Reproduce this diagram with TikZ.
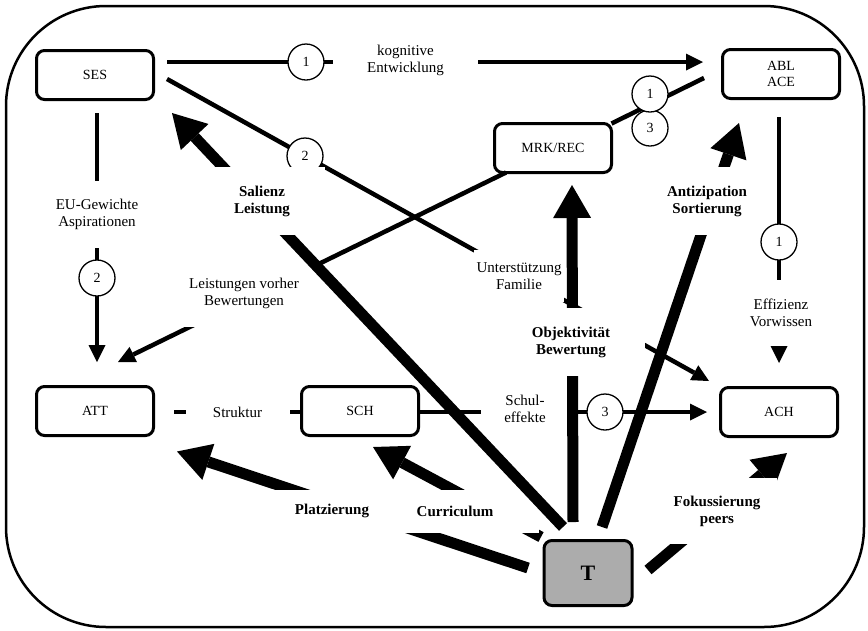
\documentclass[tikz,border=0pt]{standalone}
\usepackage{fontspec}
\setmainfont{Liberation Serif}
\usepackage{tikz}
\usetikzlibrary{arrows.meta}

\begin{document}
\begin{tikzpicture}[x=1pt,y=-1pt,
box/.style={draw,line width=3pt,rounded corners=8pt,fill=white,
minimum width=117pt,minimum height=49pt,outer sep=0pt,align=center,
font=\fontsize{14}{16}\selectfont},
num/.style={draw,circle,line width=1.3pt,fill=white,minimum size=36pt,
inner sep=0pt,font=\fontsize{14}{16}\selectfont},
lbl/.style={fill=white,align=center,inner sep=0pt,font=\fontsize{15}{17}\selectfont},
blbl/.style={lbl,font=\fontsize{15}{17}\selectfont\bfseries},
thinline/.style={line width=4.5pt},
thinarrow/.style={thinline,-{Triangle[length=17pt,width=17pt,line width=0pt]}},
fatarrow/.style={line width=11pt,-{Triangle[length=33pt,width=38pt,line width=0pt]}}]
\useasboundingbox (0,0) rectangle (868,630);
\draw[line width=2.5pt,rounded corners=100pt] (6,6) rectangle (864,627);

%----------boxes
\node[box] (ses) at (95,75) {SES};
\node[box] (abl) at (781,74) {ABL\\ACE};
\node[box] (mrk) at (553,148) {MRK/REC};
\node[box] (att) at (95,411) {ATT};
\node[box] (sch) at (360,411) {SCH};
\node[box] (ach) at (779,412) {ACH};
\node[box,fill=gray!65,minimum width=88pt,minimum height=65pt,
font=\fontsize{22}{24}\selectfont\bfseries] (t) at (588,573) {T};

%----------thin lines
%SES -> ABL
\draw[thinarrow] ([xshift=13.5pt,yshift=13pt]ses.east) -- ([xshift=-19.5pt,yshift=12pt]abl.west);
%SES -> ACH
\draw[thinarrow] ([xshift=13.5pt,yshift=-4pt]ses.east) -- ([xshift=-11.5pt,yshift=6.5pt]ach.north west);
%MRK -> ATT
\draw[thinarrow] ([xshift=11.5pt]mrk.south west) -- ([xshift=23pt,yshift=24.5pt]att.north);
%MRK -- ABL
\draw[thinline] (mrk.north east) -- ([xshift=-18.5pt,yshift=-4pt]abl.west);
%SES -> ATT
\draw[thinarrow] ([xshift=2pt,yshift=-13.5pt]ses.south) -- ([xshift=2pt,yshift=24.5pt]att.north);
%ABL -> ACH
\draw[thinarrow] ([xshift=-2pt,yshift=-18.5pt]abl.south) -- ([yshift=24.5pt]ach.north);
%ATT -- SCH
\draw[thinline] ([xshift=20.5pt,yshift=-1pt]att.east) -- ([yshift=-1pt]sch.west);
%SCH -> ACH
\draw[thinarrow] ([yshift=-1pt]sch.east) -- ([xshift=-13.5pt]ach.west);

%----------circles
\node[num] (c1a) at (306,62) {1};
\node[num] (c2a) at (305,156) {2};
\node[num] (c2b) at (97,278) {2};
\node[num] (c3a) at (650,128) {3};
\node[num] (c1b) at (650,94) {1};
\node[num] (c1c) at (779,242) {1};
\node[num] (c3b) at (605,412) {3};

%----------labels on thin lines
\node[lbl,minimum width=145pt,minimum height=46pt] (kog) at (405.5,60) {kognitive\\Entwicklung};
\node[lbl,minimum width=96pt,minimum height=67pt] (eu) at (97,214) {EU-Gewichte\\Aspirationen};
\node[lbl,minimum width=146pt,minimum height=68pt] (lei) at (244,293) {Leistungen vorher\\Bewertungen};
\node[lbl,minimum width=90pt,minimum height=52pt] (unt) at (519,276) {Unterstützung\\Familie};
\node[lbl,minimum width=80pt,minimum height=66pt] (eff) at (781,313) {Effizienz\\Vorwissen};
\node[lbl,minimum width=104pt,minimum height=30pt] (struk) at (237.5,412) {Struktur};
\node[lbl,minimum width=88pt,minimum height=42pt] (schul) at (525,409) {Schul-\\effekte};

%----------T, lower arrows
%T -> ATT
\draw[fatarrow] ([xshift=-16pt,yshift=5pt]t.west) -- ([xshift=23.5pt,yshift=-16pt]att.south east);
%T -> SCH
\draw[fatarrow] ([xshift=-3pt,yshift=3.5pt]t.north west) -- ([xshift=13pt,yshift=-11.5pt]sch.south);
%T -> ACH
\draw[fatarrow] ([xshift=16pt,yshift=3pt]t.east) -- ([xshift=8pt,yshift=-16.5pt]ach.south);

\node[blbl,minimum width=168pt,minimum height=43pt] (curr) at (455,511) {Curriculum};
\node[blbl,minimum width=124pt,minimum height=43pt] (platz) at (332,511) {Platzierung};
\node[blbl,minimum width=120pt,minimum height=66pt] (fok) at (717,511) {Fokussierung\\peers};

%----------T, upper arrows
%T -> MRK
\draw[fatarrow] ([xshift=-15pt,yshift=18.5pt]t.north) -- ([xshift=19pt,yshift=-12.5pt]mrk.south);
%T -> SES
\draw[fatarrow] ([xshift=19pt,yshift=13.5pt]t.north west) -- ([xshift=18.5pt,yshift=-13.5pt]ses.south east);
%T -> ABL
\draw[fatarrow] ([xshift=14pt,yshift=13.5pt]t.north) -- ([xshift=-42pt,yshift=-24.5pt]abl.south);

\node[blbl,minimum width=126pt,minimum height=68pt] (sal) at (262,201) {Salienz\\Leistung};
\node[blbl,minimum width=90pt,minimum height=68pt] (ant) at (707,201) {Antizipation\\Sortierung};
\node[blbl,minimum width=148pt,minimum height=68pt] (obj) at (571,342) {Objektivität\\Bewertung};

\end{tikzpicture}
\end{document}
